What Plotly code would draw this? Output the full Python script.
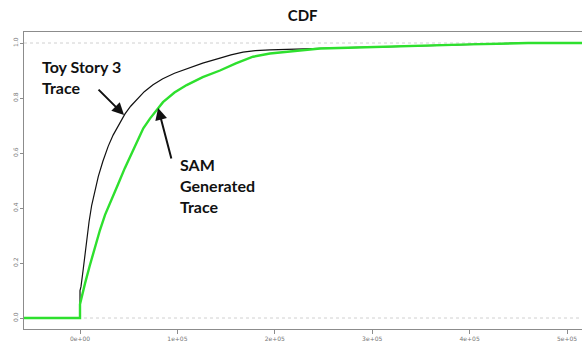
import plotly.graph_objects as go

# Empirical CDF of request sizes for the two traces
toy_x = [-57500, 0, 0, 1000, 3400, 6900, 9300, 12000, 15200, 18800, 23500, 29000,
         34000, 39300, 46200, 52000, 58200, 66000, 75000, 85000, 97000, 109500,
         126000, 143700, 155000, 167400, 180000, 195000, 220000, 246400, 275000,
         301000, 350000, 400000, 452000, 520000]
toy_y = [0.0, 0.0, 0.10, 0.114, 0.18, 0.29, 0.35, 0.41, 0.465, 0.515, 0.57, 0.625,
         0.665, 0.70, 0.742, 0.77, 0.795, 0.823, 0.848, 0.87, 0.89, 0.907,
         0.927, 0.945, 0.957, 0.967, 0.972, 0.975, 0.978, 0.98, 0.983,
         0.985, 0.99, 0.995, 1.0, 1.0]

sam_x = [-57500, 0, 0, 2500, 5100, 10000, 15400, 20500, 25700, 32000, 39300, 46000,
         53100, 59000, 65000, 72000, 78000, 85200, 97000, 109500, 126000, 143700,
         160000, 177600, 195000, 212200, 246400, 275000, 301000, 350000, 400000,
         460000, 520000]
sam_y = [0.0, 0.0, 0.05, 0.09, 0.125, 0.19, 0.26, 0.32, 0.375, 0.43, 0.488, 0.545,
         0.60, 0.648, 0.69, 0.726, 0.753, 0.785, 0.82, 0.847, 0.876, 0.90,
         0.926, 0.95, 0.962, 0.968, 0.98, 0.983, 0.986, 0.99, 0.995,
         1.0, 1.0]

x_ticks = [0, 100000, 200000, 300000, 400000, 500000]
x_tick_labels = ["0e+00", "1e+05", "2e+05", "3e+05", "4e+05", "5e+05"]
y_ticks = [0.0, 0.2, 0.4, 0.6, 0.8, 1.0]
y_tick_labels = ["0.0", "0.2", "0.4", "0.6", "0.8", "1.0"]

fig = go.Figure()
fig.add_trace(go.Scatter(x=toy_x, y=toy_y, mode="lines",
                         line=dict(color="#111111", width=1.2), name="Toy Story 3 Trace"))
fig.add_trace(go.Scatter(x=sam_x, y=sam_y, mode="lines",
                         line=dict(color="#2ee02e", width=2.4), name="SAM Generated Trace"))

# dotted reference lines at 0 and 1
for yv in (0.0, 1.0):
    fig.add_shape(type="line", xref="paper", x0=0, x1=1, yref="y", y0=yv, y1=yv,
                  line=dict(color="#d0d0d0", width=1, dash="dot"), layer="below")

lab_font = dict(family="Lato, Open Sans, sans-serif", size=16, color="#111111")

fig.add_annotation(x=-41000, y=0.955, xref="x", yref="y", xanchor="left", yanchor="top",
                   text="<b>Toy Story 3</b><br><b>Trace</b>", showarrow=False,
                   align="left", font=lab_font)
fig.add_annotation(x=100700, y=0.60, xref="x", yref="y", xanchor="left", yanchor="top",
                   text="<b>SAM</b><br><b>Generated</b><br><b>Trace</b>", showarrow=False,
                   align="left", font=lab_font)

# arrows pointing at each curve
fig.add_annotation(x=45200, y=0.738, ax=17500, ay=0.836, xref="x", yref="y",
                   axref="x", ayref="y", text="", showarrow=True, arrowhead=2,
                   arrowsize=1.2, arrowwidth=2, arrowcolor="#111111")
fig.add_annotation(x=80200, y=0.764, ax=94200, ay=0.575, xref="x", yref="y",
                   axref="x", ayref="y", text="", showarrow=True, arrowhead=2,
                   arrowsize=1.2, arrowwidth=2, arrowcolor="#111111")

fig.update_layout(
    width=582, height=356,
    margin=dict(l=24, r=0, t=32, b=27),
    paper_bgcolor="white", plot_bgcolor="white",
    showlegend=False,
    title=dict(text="<b>CDF</b>", x=0.52, xanchor="center", y=0.955, yanchor="middle",
               font=dict(family="Lato, Open Sans, sans-serif", size=15, color="#111111")),
    xaxis=dict(range=[-57500, 515400], tickmode="array", tickvals=x_ticks,
               ticktext=x_tick_labels, showgrid=False, zeroline=False,
               showline=True, linecolor="#8c8c8c", linewidth=1, mirror=True,
               ticks="outside", ticklen=4, tickcolor="#8c8c8c",
               tickfont=dict(family="DejaVu Sans", size=6, color="#777777")),
    yaxis=dict(range=[-0.04, 1.04], tickmode="array", tickvals=y_ticks,
               ticktext=y_tick_labels, showgrid=False, zeroline=False,
               showline=True, linecolor="#8c8c8c", linewidth=1,
               ticks="outside", ticklen=3, tickcolor="#8c8c8c", tickangle=-90,
               tickfont=dict(family="DejaVu Sans", size=6, color="#777777")),
)

fig.write_html("out.html")
